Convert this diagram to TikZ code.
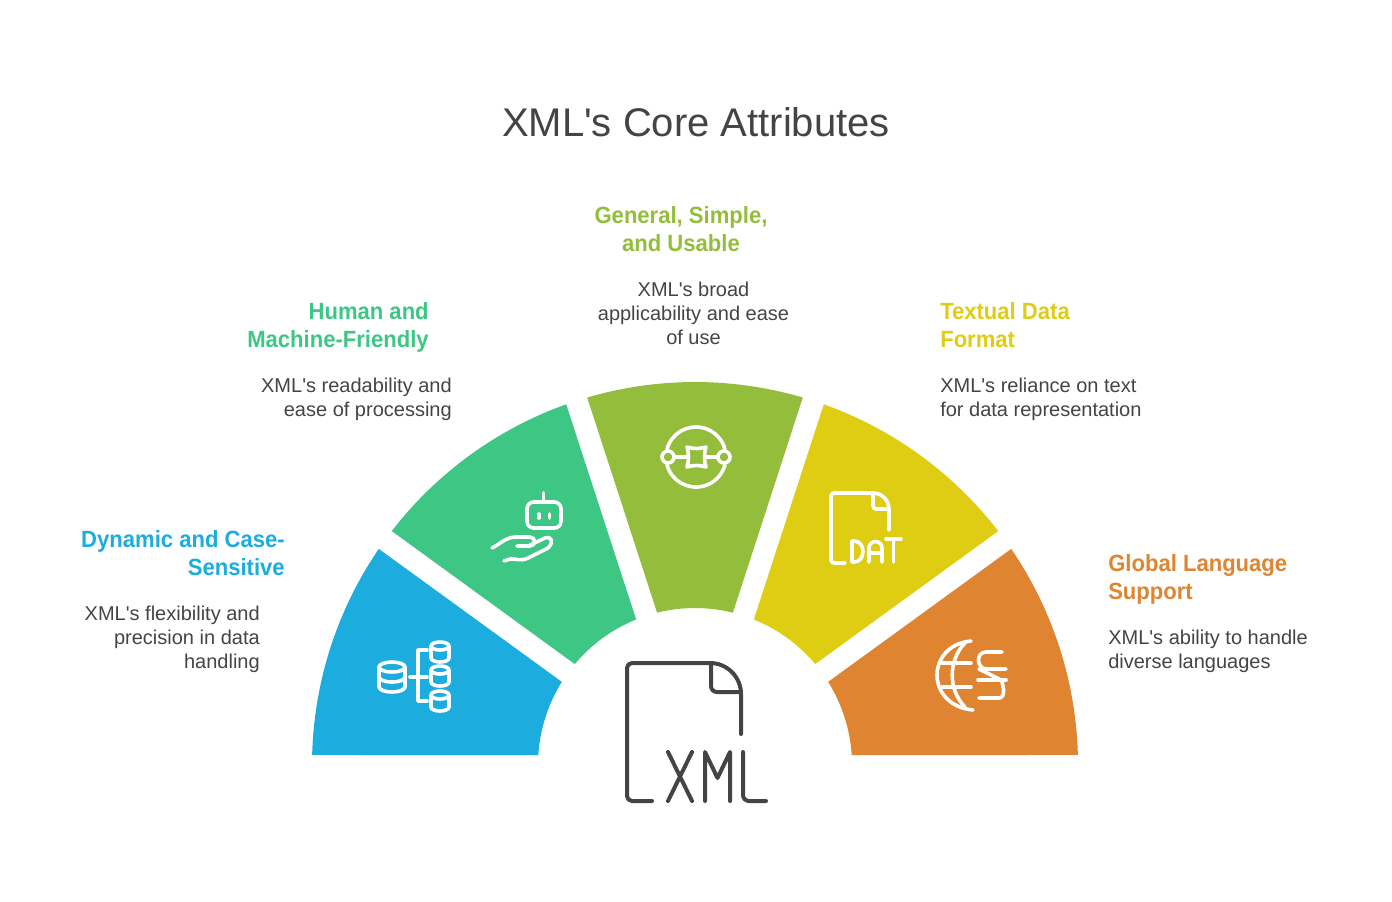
\documentclass[tikz,border=0pt]{standalone}
\usepackage{fontspec}
\setmainfont{Liberation Sans}
\setmonofont{Liberation Sans}
\newfontfamily\headfont[FakeStretch=0.94,Mapping=]{Liberation Sans Bold}
\definecolor{cblue}{HTML}{1CACDE}
\definecolor{cgreen}{HTML}{3EC685}
\definecolor{colive}{HTML}{93BD3B}
\definecolor{cyellow}{HTML}{DFCD14}
\definecolor{corange}{HTML}{DF8431}
\definecolor{cdark}{HTML}{444444}
\newcommand{\sector}[5]{% colour, outer start, outer end, inner start, inner end
  \fill[#1] ([shift={(#2:383)}]C) arc[start angle=#2,end angle=#3,radius=383]
    -- ([shift={(#4:157)}]C) arc[start angle=#4,end angle=#5,radius=157] -- cycle;}
\tikzset{
  x=0.75pt,y=0.75pt,
  head/.style={inner sep=0pt,font=\fontsize{17.6}{21}\headfont},
  body/.style={inner sep=0pt,text=cdark,font=\fontsize{15}{18}\ttfamily},
  icon/.style={draw=white,line width=2.7pt,line cap=round,line join=round,fill=none},
  bigicon/.style={draw=cdark,line width=3pt,line cap=round,line join=round,fill=none},
}
\newcommand{\smallcyl}[1]{%
  \draw[icon] (431,-#1-5) arc[start angle=180,end angle=0,x radius=9,y radius=4] -- ++(0,-12)
     arc[start angle=0,end angle=-180,x radius=9,y radius=4] -- cycle;
  \draw[icon] (431,-#1-5) arc[start angle=180,end angle=360,x radius=9,y radius=4];}
\begin{document}
\begin{tikzpicture}
\useasboundingbox (0,0) rectangle (1392,-901);
\coordinate (C) at (695,-765);
\sector{cblue}{178.5}{145.65}{148.02}{176.35}
\sector{cgreen}{142.35}{109.65}{112.02}{139.98}
\sector{colive}{106.35}{73.65}{76.02}{103.98}
\sector{cyellow}{70.35}{37.65}{40.02}{67.98}
\sector{corange}{34.35}{1.5}{3.65}{31.98}

\node[inner sep=0pt,text=cdark,font=\fontsize{30}{36}\ttfamily] (title) at (696,-122) {XML's Core Attributes};

\node[head,text=cblue,align=right,anchor=east] (h1) at (285,-553) {Dynamic and Case-\\Sensitive};
\node[body,align=right,anchor=east] (b1) at (260,-639) {XML's flexibility and\\precision in data\\handling};
\node[head,text=cgreen,align=right,anchor=east] (h2) at (429,-327) {Human and\\Machine-Friendly};
\node[body,align=right,anchor=east] (b2) at (452,-399) {XML's readability and\\ease of processing};
\node[head,text=colive,align=center] (h3) at (681,-229) {General, Simple,\\and Usable};
\node[body,align=center] (b3) at (693.5,-313) {XML's broad\\applicability and ease\\of use};
\node[head,text=cyellow,align=left,anchor=west] (h4) at (940,-325) {Textual Data\\Format};
\node[body,align=left,anchor=west] (b4) at (940,-399) {XML's reliance on text\\for data representation};
\node[head,text=corange,align=left,anchor=west] (h5) at (1108,-579) {Global Language\\Support};
\node[body,align=left,anchor=west] (b5) at (1108,-651) {XML's ability to handle\\diverse languages};

% database icon
\draw[icon] (392,-667) ellipse[x radius=13,y radius=5];
\draw[icon] (379,-667) -- (379,-687) arc[start angle=180,end angle=360,x radius=13,y radius=5] -- (405,-667);
\draw[icon] (379,-677) arc[start angle=180,end angle=360,x radius=13,y radius=5];
\smallcyl{641}\smallcyl{665}\smallcyl{690}
\draw[icon] (427,-650) -- (418,-650) -- (418,-701) -- (427,-701);
\draw[icon] (410,-677) -- (427,-677);

% robot and hand
\draw[icon,rounded corners=5pt] (527,-502) rectangle (561,-528);
\draw[icon] (543.5,-493) -- (543.5,-502);
\draw[icon] (539,-514) -- (539,-518) (549.5,-514) -- (549.5,-518);
\draw[icon] (492,-548) .. controls (500,-544) and (506,-537) .. (516,-537)
   -- (530,-537) .. controls (536,-537) and (536,-546) .. (530,-546) -- (517,-546);
\draw[icon] (530,-545) -- (545,-538) .. controls (552,-536) and (554,-542) .. (548,-548)
   -- (528,-558) .. controls (520,-562) and (515,-558) .. (510,-559) -- (504,-561);

% general icon
\draw[icon] (667,-449.2) arc[start angle=165,end angle=15,radius=30];
\draw[icon] (667,-464.8) arc[start angle=195,end angle=345,radius=30];
\draw[icon] (668,-457) circle[radius=6];
\draw[icon] (724,-457) circle[radius=6];
\draw[icon] (674,-457) -- (687,-457) (705,-457) -- (718,-457);
\draw[icon] (687,-447) .. controls (693,-449) and (700,-449) .. (706,-447)
   .. controls (704,-453) and (704,-461) .. (706,-467)
   .. controls (700,-465) and (693,-465) .. (687,-467)
   .. controls (689,-461) and (689,-453) .. (687,-447) -- cycle;

% DAT document
\draw[icon] (845,-563) -- (834,-563) arc[start angle=270,end angle=180,radius=3] -- (831,-496)
  arc[start angle=180,end angle=90,radius=3] -- (873,-493)
  arc[start angle=90,end angle=0,radius=16] -- (889,-530);
\draw[icon] (873,-493) -- (873,-506) arc[start angle=180,end angle=270,radius=3] -- (888,-509);
\draw[icon] (852,-541) -- (852,-562) -- (854,-562) .. controls (866,-562) and (866,-541) .. (854,-541) -- cycle;
\draw[icon] (869,-562) -- (869,-548) arc[start angle=180,end angle=0,radius=6.5] -- (882,-562) (869,-553) -- (882,-553);
\draw[icon] (886,-539) -- (901,-539) (893.5,-539) -- (893.5,-562);

% globe and letter icon
\draw[icon] (971,-641) .. controls (948,-643) and (937,-660) .. (937,-675)
   .. controls (937,-692) and (950,-708) .. (973,-710);
\draw[icon] (965,-643) .. controls (948,-660) and (948,-690) .. (965,-707);
\draw[icon] (942,-663) -- (971,-663) (942,-687) -- (971,-687);
\draw[icon] (1002,-652) -- (986,-652) .. controls (976,-652) and (976,-668) .. (986,-669) -- (1006,-669);
\draw[icon] (978,-680) -- (1006,-680);
\draw[icon] (979,-669) -- (1001,-680) .. controls (1005,-688) and (1004,-698) .. (1000,-698) -- (979,-698);

% XML document
\draw[bigicon] (652,-801) -- (632,-801) arc[start angle=270,end angle=180,radius=5] -- (627,-668)
  arc[start angle=180,end angle=90,radius=5] -- (710,-663)
  arc[start angle=90,end angle=0,radius=31] -- (741,-734);
\draw[bigicon] (711,-663) -- (711,-686) arc[start angle=180,end angle=270,radius=6] -- (741,-692);
\draw[bigicon] (668,-752) -- (692,-801) (692,-752) -- (668,-801);
\draw[bigicon] (705,-801) -- (705,-752) -- (717.5,-778) -- (730,-752) -- (730,-801);
\draw[bigicon] (743,-752) -- (743,-795) arc[start angle=180,end angle=270,radius=6] -- (766,-801);
\end{tikzpicture}
\end{document}
